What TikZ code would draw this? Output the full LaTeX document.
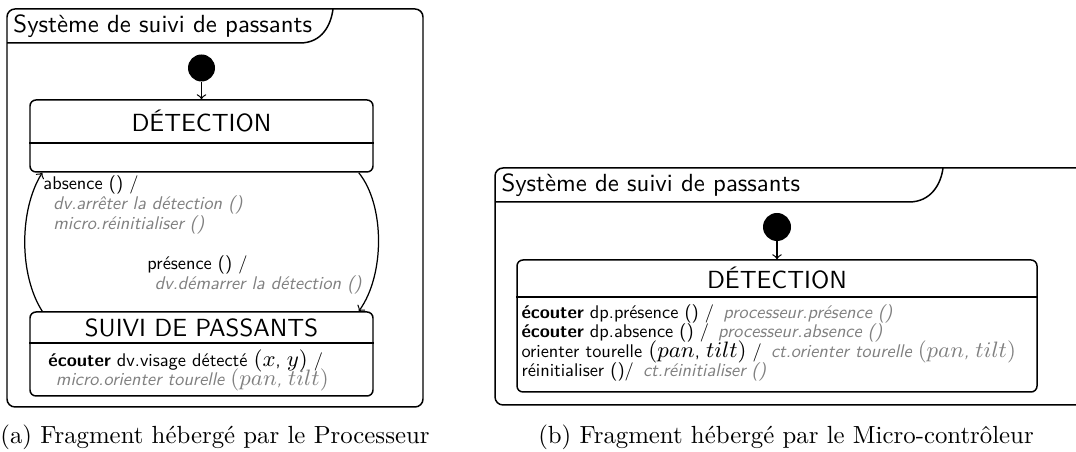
\documentclass[tikz,border=0pt]{standalone}
\usepackage{fontspec}
\usepackage{tikz}
\usetikzlibrary{calc,positioning}
\newfontfamily\evtsans{lmsans10}[Extension=.otf,UprightFont=*-regular,BoldFont=*-bold,ItalicFont=*-oblique]
\newcommand{\pxl}{0.4032pt}
\definecolor{actgray}{gray}{0.5}
\newcommand{\act}[1]{{\color{actgray}\itshape #1}}
\newcommand{\mth}[1]{{\fontsize{8.8}{7.9}\selectfont$#1$}}
\newcommand{\evtfont}{\evtsans\fontsize{7.4}{7.9}\selectfont\setlength{\lineskiplimit}{-20pt}}
\tikzset{
  stbox/.style={draw,rounded corners=6*\pxl,line width=0.6pt,inner sep=0},
  initst/.style={circle,fill=black,inner sep=0,minimum size=27*\pxl},
  frm/.style={rounded corners=8*\pxl,line width=0.6pt},
  stname/.style={font=\sffamily},
  evt/.style={font=\evtfont,align=left,inner sep=0,anchor=west},
  trn/.style={->,line width=0.5pt}
}
\begin{document}
\begin{tikzpicture}[x=\pxl,y=-\pxl]
\useasboundingbox (0,0) rectangle (1076,452);
\clip (0,0) rectangle (1076,452);
% (a) fragment processeur
\draw[frm] (7,9) rectangle (423,407);
\draw[line width=0.6pt] (7,43) -- (300,43) .. controls (322,43) and (331,25) .. (333,9);
\node[stname,anchor=west,inner sep=0] (titA) at (13,26) {Système de suivi de passants};
\node[initst] (initA) at (201.5,68) {};
\node[stbox,minimum width=343*\pxl,minimum height=72*\pxl] (det) at (201.5,136) {};
\node[stname] (detT) at (201.5,121.5) {DÉTECTION};
\draw[line width=0.6pt] (det.west |- 0,143) -- (det.east |- 0,143);
\node[stbox,minimum width=343*\pxl,minimum height=84*\pxl] (suivi) at (201.5,354) {};
\node[stname] (suiviT) at (201.5,327.5) {SUIVI DE PASSANTS};
\draw[line width=0.6pt] (suivi.west |- 0,343) -- (suivi.east |- 0,343);
\node[evt] (suiviE) at (48,370.5) {\textbf{écouter} dv.visage détecté \mth{(x}, \mth{y)} /\\
  \hspace*{3pt}\act{micro.orienter tourelle \mth{(pan}, \mth{tilt)}}};
\draw[trn] (initA) -- (det);
\draw[trn] ($(suivi.north west)+(13,0)$) .. controls (19,275) and (19,210) .. ($(det.south west)+(13,0)$);
\draw[trn] ($(det.south east)+(-15,0)$) .. controls (385,205) and (385,275) .. ($(suivi.north east)+(-15,0)$);
\node[evt] (absL) at (43,205) {absence () /\\
  \hspace*{4pt}\act{dv.arrêter la détection ()}\\
  \hspace*{4pt}\act{micro.réinitialiser ()}};
\node[evt] (presL) at (147,275) {présence () /\\
  \hspace*{3pt}\act{dv.démarrer la détection ()}};
\node (capA) at (215,437) {(a) Fragment hébergé par le Processeur};
% (b) fragment micro-controleur
\draw[frm] (495,168) rectangle (1090,405);
\draw[line width=0.6pt] (495,202) -- (909,202) .. controls (931,202) and (941,184) .. (943,168);
\node[stname,anchor=west,inner sep=0] (titB) at (501,185) {Système de suivi de passants};
\node[initst,minimum size=28*\pxl] (initB) at (777,227) {};
\node[stbox,minimum width=520*\pxl,minimum height=132*\pxl] (detB) at (777,326) {};
\node[stname] (detBT) at (777,278.5) {DÉTECTION};
\draw[line width=0.6pt] (detB.west |- 0,297) -- (detB.east |- 0,297);
\draw[trn] (initB) -- (detB);
\node[evt] (detBE) at (521,343) {\textbf{écouter} dp.présence () /\enskip\act{processeur.présence ()}\\
  \textbf{écouter} dp.absence () /\enskip\act{processeur.absence ()}\\
  orienter tourelle \mth{(pan}, \mth{tilt)} /\enskip\act{ct.orienter tourelle \mth{(pan}, \mth{tilt)}}\\
  réinitialiser ()/\enskip\act{ct.réinitialiser ()}};
\node (capB) at (786,437) {(b) Fragment hébergé par le Micro-contrôleur};
\end{tikzpicture}
\end{document}
